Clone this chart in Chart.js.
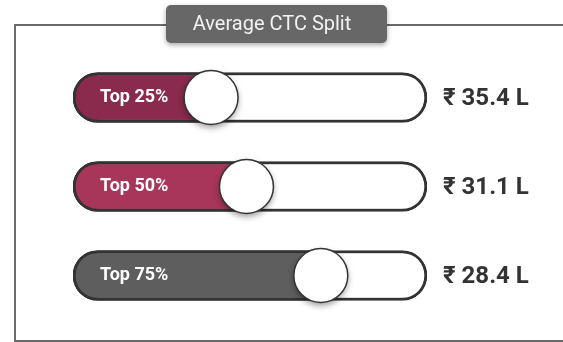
<!DOCTYPE html>
<html>
<head>
<meta charset="utf-8">
<script src="https://cdn.jsdelivr.net/npm/chart.js@4/dist/chart.umd.min.js"></script>
<style>
  body { margin: 0; background: #fff; }
  canvas { display: block; }
</style>
</head>
<body>
<canvas id="ctcChart" width="563" height="342"></canvas>
<script>
const canvas = document.getElementById("ctcChart");
const ctx = canvas.getContext("2d");

// tiers, average CTC (lakh rupees) and where each slider knob sits (% of track)
const tiers = ["Top 25%", "Top 50%", "Top 75%"];
const ctcLakh = [35.4, 31.1, 28.4];
const knobPct = [39, 49, 70];
const fillColors = ["#8a2a4c", "#a8355a", "#5e5e5e"];
const chartTitle = "Average CTC Split";

// frame, title tab and white page behind the sliders
const framePlugin = {
  id: "frame",
  beforeDraw(chart) {
    const c = chart.ctx;
    c.save();
    c.fillStyle = "#fff";
    c.fillRect(0, 0, chart.width, chart.height);

    c.strokeStyle = "#6a6a6a";
    c.lineWidth = 2;
    c.beginPath();
    c.moveTo(15, 342);
    c.lineTo(15, 25);
    c.lineTo(563, 25);
    c.moveTo(15, 341);
    c.lineTo(563, 341);
    c.stroke();

    c.shadowColor = "rgba(0,0,0,0.35)";
    c.shadowBlur = 5;
    c.shadowOffsetY = 2;
    c.fillStyle = "#676767";
    c.beginPath();
    c.roundRect(166, 5, 221, 38, 5);
    c.fill();
    c.restore();

    c.save();
    c.fillStyle = "#f2f2f2";
    c.font = "20px Roboto";
    c.textAlign = "center";
    c.textBaseline = "middle";
    c.fillText(chartTitle, 272, 25);
    c.restore();
  }
};

// knobs, tier names inside the fill and the rupee value to the right
const knobPlugin = {
  id: "knobs",
  afterDatasetsDraw(chart) {
    const c = chart.ctx;
    const xs = chart.scales.x;
    const ys = chart.scales.y;
    tiers.forEach((name, i) => {
      const y = ys.getPixelForValue(i);
      const x = xs.getPixelForValue(knobPct[i]);

      c.save();
      c.fillStyle = "#fff";
      c.font = "bold 18px Roboto";
      c.textBaseline = "middle";
      c.fillText(name, 100, y);
      c.restore();

      c.save();
      c.shadowColor = "rgba(0,0,0,0.4)";
      c.shadowBlur = 6;
      c.shadowOffsetY = 3;
      c.fillStyle = "#fff";
      c.beginPath();
      c.arc(x, y, 27, 0, Math.PI * 2);
      c.fill();
      c.shadowColor = "transparent";
      c.strokeStyle = "#333";
      c.lineWidth = 1.5;
      c.stroke();
      c.restore();

      c.save();
      c.fillStyle = "#333";
      c.font = "bold 24px Roboto";
      c.textBaseline = "middle";
      c.fillText("\u20b9 " + ctcLakh[i].toFixed(1) + " L", 443, y + 1);
      c.restore();
    });
  }
};

const chart = new Chart(ctx, {
  type: "bar",
  data: {
    labels: tiers,
    datasets: [
      {
        label: "fill",
        data: knobPct,
        backgroundColor: fillColors,
        borderColor: "#333",
        borderWidth: 3,
        borderRadius: { topLeft: 25, bottomLeft: 25, topRight: 0, bottomRight: 0 },
        borderSkipped: false,
        barThickness: 50,
        grouped: false,
        order: 1,
      },
      {
        label: "track",
        data: tiers.map(() => 100),
        backgroundColor: "#fff",
        borderColor: "#333",
        borderWidth: 3,
        borderRadius: 25,
        borderSkipped: false,
        barThickness: 50,
        grouped: false,
        order: 2,
      },
    ],
  },
  options: {
    indexAxis: "y",
    responsive: false,
    animation: false,
    layout: { padding: { left: 73, right: 136, top: 53, bottom: 22 } },
    scales: {
      x: { display: false, min: 0, max: 100 },
      y: { display: false },
    },
    plugins: {
      legend: { display: false },
      tooltip: { enabled: false },
    },
  },
  plugins: [framePlugin, knobPlugin],
});
</script>
</body>
</html>
